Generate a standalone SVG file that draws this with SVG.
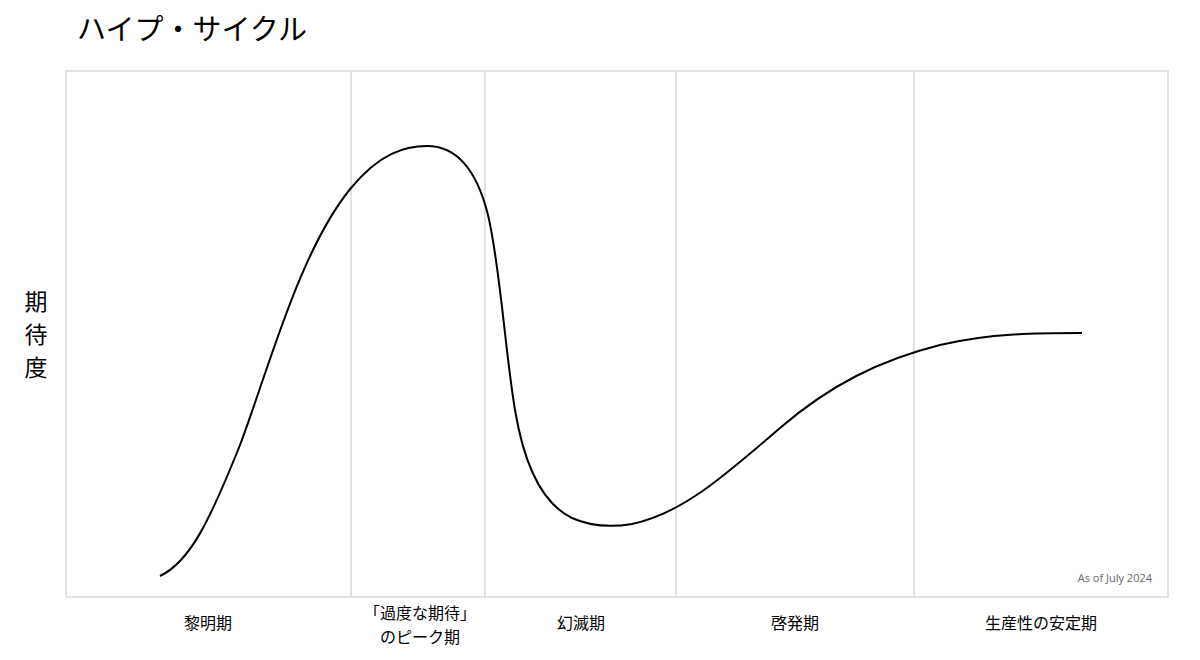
<svg xmlns="http://www.w3.org/2000/svg" width="1200" height="660" viewBox="0 0 1200 660">
<style>
.jp{font-family:"Noto Sans CJK JP","Noto Sans CJK SC",sans-serif;fill:#000}
.lbl{font-size:16px;text-anchor:middle}
.div{stroke:#d9d9d9;stroke-width:1.5;fill:none}
</style>
<rect width="1200" height="660" fill="#fff"/>
<text class="jp" x="77" y="40" font-size="29">ハイプ・サイクル</text>
<g id="yaxis">
<text class="jp" x="36" y="310" font-size="23" text-anchor="middle">期</text>
<text class="jp" x="36" y="343" font-size="23" text-anchor="middle">待</text>
<text class="jp" x="36" y="376" font-size="23" text-anchor="middle">度</text>
</g>
<g id="frame">
<rect x="66" y="71" width="1102" height="526" class="div"/>
<line x1="351" y1="71" x2="351" y2="597" class="div"/>
<line x1="485" y1="71" x2="485" y2="597" class="div"/>
<line x1="676" y1="71" x2="676" y2="597" class="div"/>
<line x1="914" y1="71" x2="914" y2="597" class="div"/>
</g>
<g id="connectors">
<path d="M160,576 C190,562 210,520 240,445 C270,365 300,250 351,188 C380,153 405,146 427,146 C460,146 478,175 488,215 C500,265 505,350 515,410 C525,470 545,505 572,518 C592,527 614,527 632,524 C680,514 720,480 780,428 C830,385 880,360 940,345 C990,333 1040,333 1082,333" fill="none" stroke="#000" stroke-width="2"/>
</g>
<g id="labels">
<text class="jp lbl" x="208" y="629">黎明期</text>
<text class="jp lbl" x="420" y="619">「過度な期待」</text>
<text class="jp lbl" x="420" y="643">のピーク期</text>
<text class="jp lbl" x="581" y="629">幻滅期</text>
<text class="jp lbl" x="795" y="629">啓発期</text>
<text class="jp lbl" x="1041" y="629">生産性の安定期</text>
</g>
<text x="1152" y="582" font-family="Open Sans, sans-serif" font-size="11" fill="#666" text-anchor="end">As of July 2024</text>
</svg>
